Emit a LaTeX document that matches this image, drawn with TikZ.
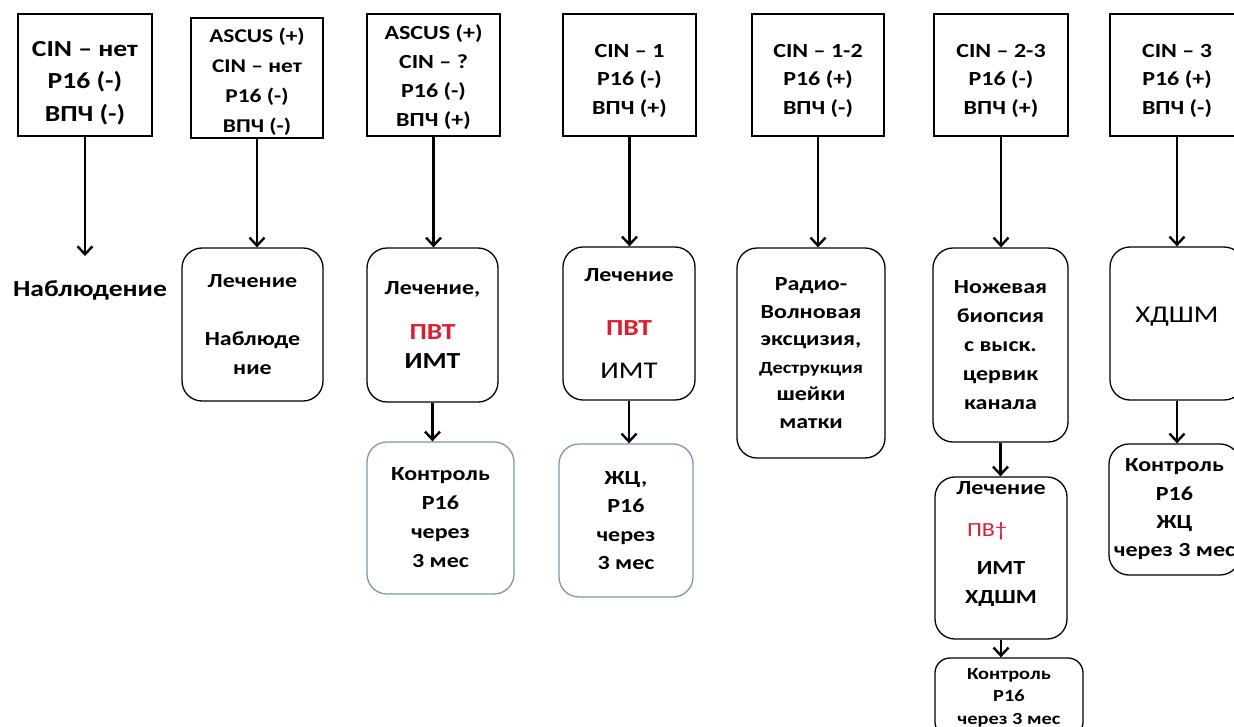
\documentclass[tikz,border=0pt]{standalone}
\usepackage{fontspec}
\setmainfont{Carlito}[FakeStretch=1.2]
\usetikzlibrary{arrows.meta}
\definecolor{pvtred}{RGB}{222,28,48}
\definecolor{ctrlblue}{RGB}{122,152,182}

\begin{document}
\begin{tikzpicture}[x=1pt, y=-1pt,
    every node/.style={align=center, inner sep=2pt},
    topbox/.style={draw, line width=1.3pt, font=\bfseries\fontsize{20}{28.5}\selectfont,
        minimum width=133pt, minimum height=122pt},
    roundbox/.style={draw, line width=1.3pt, rounded corners=20pt,
        font=\bfseries\fontsize{20}{29}\selectfont},
    ctrlbox/.style={roundbox, draw=ctrlblue},
    arr/.style={line width=2.6pt, -{Straight Barb[length=8pt, width=15pt, line width=2.4pt]}}]
    \useasboundingbox (0,0) rectangle (1234,726);
    \clip (0,0) rectangle (1234,726);

    % top row
    \node[topbox, minimum width=134pt, font=\bfseries\fontsize{23}{32.5}\selectfont] (t1) at (85,75) {\rule{0pt}{31pt}CIN – нет\\P16 (-)\\ВПЧ (-)};
    \node[topbox, minimum width=132pt, minimum height=120pt, font=\bfseries\fontsize{19.5}{30}\selectfont] (t2) at (257,78) {\rule{0pt}{22pt}ASCUS (+)\\CIN – нет\\P16 (-)\\ВПЧ (-)};
    \node[topbox, font=\bfseries\fontsize{20}{29}\selectfont] (t3) at (433.5,75) {\rule{0pt}{20pt}ASCUS (+)\\CIN – ?\\P16 (-)\\ВПЧ (+)};
    \node[topbox] (t4) at (629.5,75) {\rule{0pt}{25pt}CIN – 1\\P16 (-)\\ВПЧ (+)};
    \node[topbox, minimum width=132pt] (t5) at (818,75) {\rule{0pt}{25pt}CIN – 1-2\\P16 (+)\\ВПЧ (-)};
    \node[topbox, minimum width=134pt] (t6) at (1001,75) {\rule{0pt}{25pt}CIN – 2-3\\P16 (-)\\ВПЧ (+)};
    \node[topbox, minimum width=134pt] (t7) at (1177,75) {\rule{0pt}{25pt}CIN – 3\\P16 (+)\\ВПЧ (-)};

    % second row
    \node[font=\bfseries\fontsize{23}{28}\selectfont] (obs) at (90,290) {Наблюдение};
    \node[roundbox, minimum width=141pt, minimum height=153pt] (r2) at (252.5,324.5) {Лечение\\[29pt]Наблюде\\ние};
    \node[roundbox, minimum width=131pt, minimum height=154pt] (r3) at (432.5,325)
        {Лечение,\\[16pt]{\color{pvtred}\fontsize{23}{30}\selectfont ПВТ}\\{\fontsize{23}{30}\selectfont ИМТ}};
    \node[roundbox, minimum width=132pt, minimum height=153pt] (r4) at (629,323.5)
        {Лечение\\[25pt]{\color{pvtred}\fontsize{23}{30}\selectfont ПВТ}\\[14pt]{\mdseries\fontsize{24}{30}\selectfont ИМТ}};
    \node[roundbox, minimum width=148pt, minimum height=210pt, font=\bfseries\fontsize{20}{27.5}\selectfont] (r5) at (811,353)
        {Радио-\\Волновая\\эксцизия,\\{\fontsize{17}{20}\selectfont Деструкция}\\шейки\\матки};
    \node[roundbox, minimum width=135pt, minimum height=194pt] (r6) at (1000.5,345) {Ножевая\\биопсия\\с выск.\\цервик\\канала};
    \node[roundbox, minimum width=134pt, minimum height=153pt, font=\fontsize{24}{29}\selectfont] (r7) at (1177,323.5) {ХДШМ\rule[-17pt]{0pt}{0pt}};

    % third row
    \node[ctrlbox, minimum width=147pt, minimum height=152pt] (c3) at (440.5,518) {Контроль\\P16\\через\\3 мес};
    \node[ctrlbox, minimum width=134pt, minimum height=153pt, font=\bfseries\fontsize{20}{28.5}\selectfont] (c4) at (626,520.5) {ЖЦ,\\P16\\через\\3 мес};
    \node[roundbox, minimum width=132pt, minimum height=162pt] (l6) at (1001,558)
        {Лечение\\[13pt]\hspace*{-28pt}{\mdseries\color{pvtred}ПВ†}\\[9pt]ИМТ\\ХДШМ\rule[-31pt]{0pt}{0pt}};
    \node[roundbox, minimum width=131pt, minimum height=131pt, font=\bfseries\fontsize{20}{28.3}\selectfont] (k7) at (1174.5,509.5)
        {Контроль\\P16\\ЖЦ\\через 3 мес};

    % fourth row
    \node[roundbox, rounded corners=15pt, minimum width=148pt, minimum height=79pt, font=\bfseries\fontsize{17}{22.5}\selectfont] (k6) at (1009,697.5)
        {Контроль\\P16\\через 3 мес};

    % arrows
    \draw[arr, shorten >=22pt] (t1.south) -- (t1.south |- obs.north);
    \draw[arr] (t2.south) -- (t2.south |- r2.north);
    \draw[arr] (t3.south) -- (t3.south |- r3.north);
    \draw[arr] (t4.south) -- (t4.south |- r4.north);
    \draw[arr] (t5.south) -- (t5.south |- r5.north);
    \draw[arr] (t6.south) -- (t6.south |- r6.north);
    \draw[arr] (t7.south) -- (t7.south |- r7.north);
    \draw[arr] (r3.south) -- (r3.south |- c3.north);
    \draw[arr] (r4.south) -- (r4.south |- c4.north);
    \draw[arr] (r6.south) -- (r6.south |- l6.north);
    \draw[arr] (l6.south) -- (l6.south |- k6.north);
    \draw[arr] (r7.south) -- (r7.south |- k7.north);
\end{tikzpicture}
\end{document}
